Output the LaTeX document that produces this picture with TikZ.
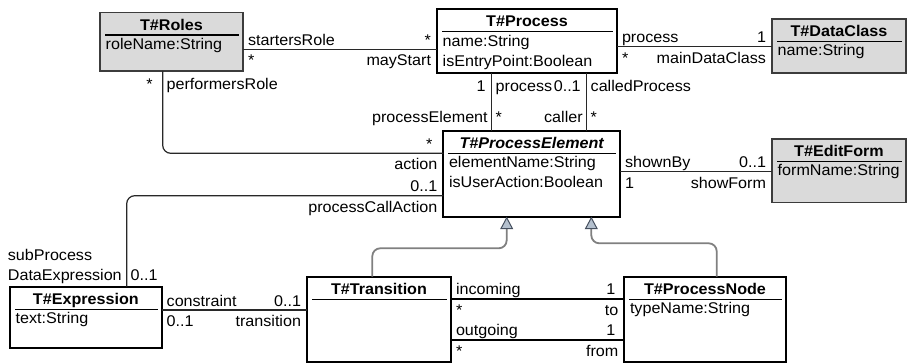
\documentclass[tikz,border=0pt]{standalone}
\usepackage{fontspec}
\setmainfont[FakeStretch=1.04]{Liberation Sans}
\usetikzlibrary{arrows.meta}

\definecolor{clsgrey}{RGB}{218,218,218}
\definecolor{clsline}{RGB}{60,60,60}
\definecolor{assocline}{RGB}{40,40,40}
\definecolor{genline}{RGB}{128,128,128}
\definecolor{genfill}{RGB}{180,192,206}
\definecolor{tipline}{RGB}{70,80,95}
\newcommand{\umlfont}{\fontsize{15.5}{20}\selectfont}

\begin{document}
\begin{tikzpicture}[x=1pt, y=-1pt,
		every node/.style={font=\umlfont},
		cls/.style={rectangle, anchor=north west, inner sep=0pt, outer sep=0pt},
		whitecls/.style={cls, draw=black, line width=2.2pt, fill=white},
		greycls/.style={cls, draw=clsline, line width=1.4pt, fill=clsgrey},
		title/.style={anchor=base, inner sep=0pt, font=\umlfont\bfseries},
		attr/.style={anchor=base west, inner sep=0pt},
		divider/.style={line width=1.4pt},
		assoc/.style={draw=assocline, line width=1.2pt},
		link/.style={draw=black, line width=2pt},
		gen/.style={draw=genline, line width=1.8pt, rounded corners=8pt,
			-{Triangle[length=12.5pt, width=13pt, line width=1pt, color=tipline, fill=genfill]}},
		lab/.style={inner sep=0pt, outer sep=0pt},
		upR/.style={lab, anchor=base west, xshift=5pt, yshift=4pt},
		dnR/.style={lab, anchor=base west, xshift=5pt, yshift=-16.5pt},
		upL/.style={lab, anchor=base east, xshift=-6pt, yshift=4pt},
		dnL/.style={lab, anchor=base east, xshift=-6pt, yshift=-16.5pt},
		lfT/.style={lab, anchor=base east, xshift=-6pt, yshift=-18.5pt},
		rtT/.style={lab, anchor=base west, xshift=4pt, yshift=-18.5pt},
		lfB/.style={lab, anchor=base east, xshift=-4pt, yshift=8pt},
		rtB/.style={lab, anchor=base west, xshift=4pt, yshift=8pt}]
	\useasboundingbox (0,0) rectangle (907,363);

	\node[greycls, minimum width=143, minimum height=58.3] (roles) at (100,12.7) {};
	\node[whitecls, minimum width=180, minimum height=63.4] (process) at (437,9.3) {};
	\node[greycls, minimum width=134, minimum height=54] (dataclass) at (772,19) {};
	\node[whitecls, minimum width=176.7, minimum height=85.7] (pelem) at (443.3,131) {};
	\node[greycls, minimum width=134, minimum height=63.7] (editform) at (772,139) {};
	\node[whitecls, minimum width=151.7, minimum height=61.6] (expr) at (10,286.7) {};
	\node[whitecls, minimum width=144, minimum height=85] (trans) at (307,276.7) {};
	\node[whitecls, minimum width=161.4, minimum height=85] (pnode) at (624.3,276.7) {};

	\foreach \cname/\ctitle in {roles/T\#Roles, process/T\#Process, dataclass/T\#DataClass,
			pelem/{\itshape T\#ProcessElement}, editform/T\#EditForm, expr/T\#Expression,
			trans/T\#Transition, pnode/T\#ProcessNode} {
		\node[title] at ([yshift=-17.5pt]\cname.north) {\ctitle};
		\draw[divider] ([xshift=5pt, yshift=-22.5pt]\cname.north west) -- ([xshift=-4pt, yshift=-22.5pt]\cname.north east);
	}

	\node[attr] at ([xshift=5.5pt, yshift=-37pt]roles.north west) {roleName:String};
	\node[attr] at ([xshift=5.5pt, yshift=-37pt]process.north west) {name:String};
	\node[attr] at ([xshift=5.5pt, yshift=-57pt]process.north west) {isEntryPoint:Boolean};
	\node[attr] at ([xshift=5.5pt, yshift=-37pt]dataclass.north west) {name:String};
	\node[attr] at ([xshift=5.5pt, yshift=-37pt]pelem.north west) {elementName:String};
	\node[attr] at ([xshift=5.5pt, yshift=-57pt]pelem.north west) {isUserAction:Boolean};
	\node[attr] at ([xshift=5.5pt, yshift=-37pt]editform.north west) {formName:String};
	\node[attr] at ([xshift=5.5pt, yshift=-37pt]expr.north west) {text:String};
	\node[attr] at ([xshift=5.5pt, yshift=-37pt]pnode.north west) {typeName:String};

	\draw[assoc] (roles.east |- 0,49.3) -- (process.west |- 0,49.3)
		node[at start, upR] {startersRole} node[at start, dnR] {*}
		node[at end, upL] {*} node[at end, dnL] {mayStart};
	\draw[assoc] (process.east |- 0,46.7) -- (dataclass.west |- 0,46.7)
		node[at start, upR] {process} node[at start, dnR] {*}
		node[at end, upL] {1} node[at end, dnL] {mainDataClass};
	\draw[assoc] (process.south -| 491.7,0) -- (pelem.north -| 491.7,0)
		node[at start, lfT] {1} node[at start, rtT] {process}
		node[at end, lfB] {processElement} node[at end, rtB] {*};
	\draw[assoc] (process.south -| 586.7,0) -- (pelem.north -| 586.7,0)
		node[at start, lfT] {0..1} node[at start, rtT] {calledProcess}
		node[at end, lfB] {caller} node[at end, rtB] {*};
	\draw[assoc, rounded corners=8pt] (roles.south -| 162.7,0) |- (pelem.west |- 0,153.3)
		node[at start, lfT, xshift=-4pt] {*} node[at start, rtT] {performersRole}
		node[at end, upL, xshift=-5pt] {*} node[at end, dnL] {action};
	\draw[assoc, rounded corners=8pt] (pelem.west |- 0,195.7) -| (expr.north -| 126.7,0)
		node[at start, upL] {0..1} node[at start, dnL] {processCallAction}
		node[at end, rtB, yshift=-1.3pt] {0..1}
		node[at end, lab, anchor=south east, align=left, xshift=-5pt, yshift=3.4pt] {subProcess\\DataExpression};
	\draw[assoc] (pelem.east |- 0,171.7) -- (editform.west |- 0,171.7)
		node[at start, upR] {shownBy} node[at start, dnR] {1}
		node[at end, upL] {0..1} node[at end, dnL] {showForm};
	\draw[assoc] (expr.east |- 0,310) -- (trans.west |- 0,310)
		node[at start, upR] {constraint} node[at start, dnR] {0..1}
		node[at end, upL] {0..1} node[at end, dnL] {transition};
	\draw[link] (trans.east |- 0,298.5) -- (pnode.west |- 0,298.5)
		node[at start, upR] {incoming} node[at start, dnR] {*}
		node[at end, upL, xshift=-3pt] {1} node[at end, dnL] {to};
	\draw[link] (trans.east |- 0,339.5) -- (pnode.west |- 0,339.5)
		node[at start, upR] {outgoing} node[at start, dnR] {*}
		node[at end, upL, xshift=-3pt] {1} node[at end, dnL] {from};

	\draw[gen] (trans.north -| 372.3,0) -- (372.3,248.3) -| (pelem.south -| 506.7,0);
	\draw[gen] (pnode.north -| 716.7,0) -- (716.7,243.3) -| (pelem.south -| 591.3,0);
\end{tikzpicture}
\end{document}
